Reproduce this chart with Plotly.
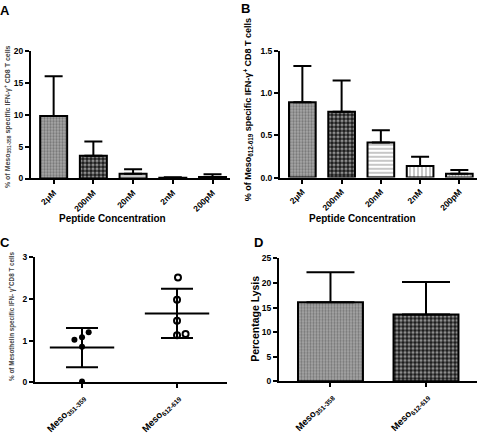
import plotly.graph_objects as go
import numpy as np

W, H = 480, 435

# ---------------- data ----------------
conc_labels = ["2μM", "200nM", "20nM", "2nM", "200pM"]
a_values = [9.8, 3.55, 0.75, 0.1, 0.25]
a_err = [6.2, 2.25, 0.7, 0.1, 0.4]
b_values = [0.89, 0.78, 0.415, 0.135, 0.045]
b_err = [0.43, 0.37, 0.145, 0.11, 0.045]

c_labels = ["Meso<sub>351-359</sub>", "Meso<sub>612-619</sub>"]
c_351 = [0.02, 0.85, 1.02, 1.08, 1.2]
c_351_jitter = [0.0, 0.0, -0.08, 0.0, 0.07]
c_612 = [2.52, 1.98, 1.48, 1.13, 1.16]
c_612_jitter = [0.01, 0.0, 0.0, 0.0, 0.09]

d_labels = ["Meso<sub>351-358</sub>", "Meso<sub>612-619</sub>"]
d_values = [16.1, 13.6]
d_err = [6.1, 6.6]

FONT = "Liberation Sans, Arial, sans-serif"


def px(x):
    return x / W


def py(y):
    return 1 - y / H


# bar styles (patterns)
a_pat = dict(shape=[".", ".", "", "|", "."],
             bgcolor=["#a8a8a8", "#1a1a1a", "#c8c8c8", "white", "white"],
             fgcolor=["#333333", "white", "#c8c8c8", "black", "black"],
             size=[3, 4, 4, 3, 3], solidity=[0.45, 0.5, 0.3, 0.3, 0.4])
b_pat = dict(shape=[".", ".", "-", "|", "."],
             bgcolor=["#a8a8a8", "#1a1a1a", "white", "white", "white"],
             fgcolor=["#333333", "white", "black", "black", "black"],
             size=[3, 4, 4, 4, 3], solidity=[0.45, 0.5, 0.3, 0.3, 0.4])
d_pat = dict(shape=[".", "."],
             bgcolor=["#a8a8a8", "#1a1a1a"],
             fgcolor=["#333333", "white"],
             size=[3, 4], solidity=[0.45, 0.5])

fig = go.Figure()

err_style = dict(type="data", symmetric=False, color="black", thickness=2)

fig.add_trace(go.Bar(
    x=conc_labels, y=a_values, width=0.68, xaxis="x", yaxis="y",
    marker=dict(color=a_pat["bgcolor"], line=dict(color="black", width=2), pattern=a_pat),
    error_y=dict(array=a_err, arrayminus=[0] * 5, width=9, **err_style),
    showlegend=False))

fig.add_trace(go.Bar(
    x=conc_labels, y=b_values, width=0.68, xaxis="x2", yaxis="y2",
    marker=dict(color=b_pat["bgcolor"], line=dict(color="black", width=2), pattern=b_pat),
    error_y=dict(array=b_err, arrayminus=[0] * 5, width=9, **err_style),
    showlegend=False))

# panel C scatter
fig.add_trace(go.Scatter(
    x=[0 + j for j in c_351_jitter], y=c_351, mode="markers", xaxis="x3", yaxis="y3",
    marker=dict(color="black", size=6, line=dict(color="black", width=0)),
    showlegend=False))
fig.add_trace(go.Scatter(
    x=[1 + j for j in c_612_jitter], y=c_612, mode="markers", xaxis="x3", yaxis="y3",
    marker=dict(color="white", size=6, symbol="circle", line=dict(color="black", width=2)),
    showlegend=False))
c_means = [float(np.mean(c_351)), float(np.mean(c_612))]
c_sds = [float(np.std(c_351, ddof=1)), float(np.std(c_612, ddof=1))]
fig.add_trace(go.Scatter(
    x=[0, 1], y=c_means, mode="markers", xaxis="x3", yaxis="y3",
    marker=dict(symbol="line-ew", size=46, color="black", line=dict(color="black", width=2)),
    error_y=dict(type="data", array=c_sds, color="black", thickness=2, width=16),
    showlegend=False))

fig.add_trace(go.Bar(
    x=[0, 1], y=d_values, width=0.68, xaxis="x4", yaxis="y4",
    marker=dict(color=d_pat["bgcolor"], line=dict(color="black", width=2), pattern=d_pat),
    error_y=dict(array=d_err, arrayminus=[0] * 2, width=24, **err_style),
    showlegend=False))

tickfont = dict(family=FONT, size=8.5, color="black", weight="bold")
xtickfont = dict(family=FONT, size=8.5, color="black", weight="bold")
mtickfont = dict(family=FONT, size=9.5, color="black", weight="bold")

ax_common = dict(showline=True, linecolor="black", linewidth=2, ticks="outside",
                 tickcolor="black", tickwidth=2, ticklen=4, showgrid=False,
                 zeroline=False, fixedrange=True)

fig.update_layout(
    width=W, height=H, margin=dict(l=0, r=0, t=0, b=0),
    plot_bgcolor="white", paper_bgcolor="white", barmode="overlay",
    xaxis=dict(domain=[px(31), px(230)], anchor="y", type="category",
               range=[-0.57, 4.44], tickangle=-45, tickfont=xtickfont, **ax_common),
    yaxis=dict(domain=[py(178), py(47)], anchor="x", range=[0, 20], dtick=5,
               tickfont=tickfont, **ax_common),
    xaxis2=dict(domain=[px(280), px(477)], anchor="y2", type="category",
                range=[-0.57, 4.45], tickangle=-45, tickfont=xtickfont, **ax_common),
    yaxis2=dict(domain=[py(177), py(47)], anchor="x2", range=[0, 1.5], dtick=0.5,
                tickformat=".1f", tickfont=tickfont, **ax_common),
    xaxis3=dict(domain=[px(35), px(227)], anchor="y3", range=[-0.495, 1.526],
                tickvals=[0, 1], ticktext=c_labels, tickangle=-45,
                tickfont=mtickfont, **ax_common),
    yaxis3=dict(domain=[py(387), py(259)], anchor="x3", range=[0, 3], dtick=1,
                tickfont=tickfont, **ax_common),
    xaxis4=dict(domain=[px(279), px(477)], anchor="y4", range=[-0.539, 1.534],
                tickvals=[0, 1], ticktext=d_labels, tickangle=-45,
                tickfont=mtickfont, **ax_common),
    yaxis4=dict(domain=[py(386), py(260)], anchor="x4", range=[0, 25], dtick=5,
                tickfont=tickfont, **ax_common),
)

ann = []


def add_text(text, x, y, size, angle=0, bold=True, color="black"):
    ann.append(dict(text=text, x=px(x), y=py(y), xref="paper", yref="paper",
                    showarrow=False, textangle=angle, xanchor="center", yanchor="middle",
                    font=dict(family=FONT, size=size, color=color,
                              weight="bold" if bold else "normal")))


# panel letters
add_text("A", 5, 6, 13)
add_text("B", 246, 4, 13)
add_text("C", 5, 244, 13)
add_text("D", 258, 244, 13)

# axis titles
add_text("Peptide Concentration", 112, 219, 10)
add_text("Peptide Concentration", 362, 219, 10)
add_text("% of Meso<sub>351-358</sub> specific IFN-γ<sup>+</sup> CD8 T cells", 7, 115, 7,
         angle=-90, bold=True, color="#444444")
add_text("% of Meso<sub>612-619</sub> specific IFN-γ<sup>+</sup> CD8 T cells", 248, 108, 9,
         angle=-90)
add_text("% of Mesothelin specific IFN- γ<sup>+</sup>CD8 T cells", 12, 320, 6.3,
         angle=-90, bold=True, color="#444444")
add_text("Percentage Lysis", 255, 322, 10.5, angle=-90)

fig.update_layout(annotations=ann)

fig.write_html("out.html", config={"displayModeBar": False},
               post_script="document.body.style.margin='0';document.body.style.overflow='hidden';")
